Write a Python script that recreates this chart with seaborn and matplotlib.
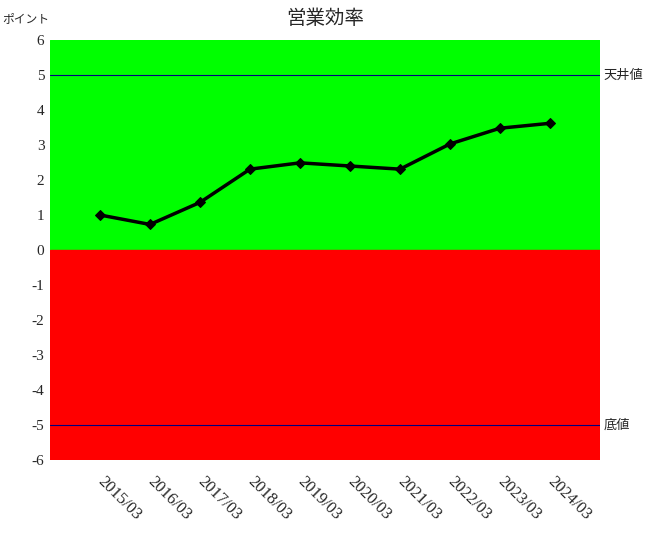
import matplotlib
matplotlib.use("Agg")
import matplotlib.pyplot as plt
import matplotlib.transforms as mtrans
import seaborn as sns
import pandas as pd

# chart data
periods = ["2015/03", "2016/03", "2017/03", "2018/03", "2019/03",
           "2020/03", "2021/03", "2022/03", "2023/03", "2024/03"]
efficiency = [1.00, 0.73, 1.36, 2.31, 2.49, 2.40, 2.31, 3.03, 3.48, 3.62]
ceiling_value = 5
floor_value = -5
y_ticks = [-6, -5, -4, -3, -2, -1, 0, 1, 2, 3, 4, 5, 6]

sns.set_theme(style="white")
plt.rcParams["font.family"] = ["Noto Sans CJK JP", "DejaVu Sans"]

df = pd.DataFrame({"period": periods, "value": efficiency})

fig = plt.figure(figsize=(6.5, 5.4), dpi=100)
ax = fig.add_axes([50 / 650, 80 / 540, 550 / 650, 420 / 540])

# coloured zones
ax.axhspan(0, 6, color="#00ff00", zorder=0)
ax.axhspan(-6, 0, color="#ff0000", zorder=0)
ax.axhline(ceiling_value, color="#000080", lw=0.8, zorder=1)
ax.axhline(floor_value, color="#000080", lw=0.8, zorder=1)

sns.lineplot(data=df, x="period", y="value", sort=False, ax=ax,
             color="black", lw=2.5, marker="D", markersize=5.5,
             markeredgecolor="black", zorder=3)

ax.set_xlim(-1, len(periods))
ax.set_ylim(-6, 6)
ax.set_yticks(y_ticks)
ax.set_yticklabels([str(v) for v in y_ticks], family="Liberation Serif", fontsize=11)
ax.set_xticks(range(len(periods)))
ax.set_xticklabels(periods, family="Liberation Serif", fontsize=12,
                   rotation=-45, ha="left", va="top", rotation_mode="anchor")
ax.tick_params(axis="both", length=0, pad=4)
ax.tick_params(axis="x", pad=12)
shift = mtrans.ScaledTranslation(6 / 100, 3 / 100, fig.dpi_scale_trans)
for lbl in ax.get_xticklabels():
    lbl.set_transform(lbl.get_transform() + shift)
ax.set_xlabel("")
ax.set_ylabel("")
for s in ax.spines.values():
    s.set_visible(False)

ax.text(1.007, ceiling_value, "天井値", transform=ax.get_yaxis_transform(),
        va="center", ha="left", fontsize=9.5)
ax.text(1.007, floor_value, "底値", transform=ax.get_yaxis_transform(),
        va="center", ha="left", fontsize=9.5)

fig.text(325 / 650, 1 - 18 / 540, "営業効率", ha="center", va="center", fontsize=14)
fig.text(2 / 650, 1 - 19 / 540, "ポイント", ha="left", va="center", fontsize=8.5)

fig.savefig("out.png", dpi=100)
